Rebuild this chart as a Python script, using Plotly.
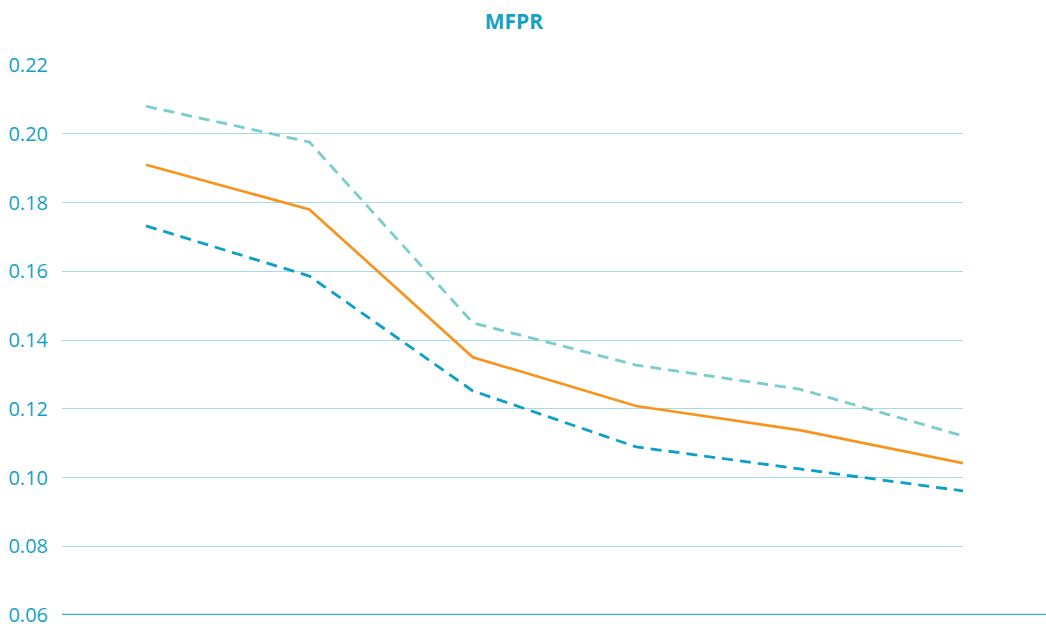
import plotly.graph_objects as go

periods = [0, 1, 2, 3, 4, 5]
central = [0.191, 0.178, 0.135, 0.1208, 0.1138, 0.1042]
upper = [0.2080, 0.1976, 0.1450, 0.1327, 0.1257, 0.1121]
lower = [0.1732, 0.1586, 0.1252, 0.1089, 0.1025, 0.0961]
y_ticks = [0.06, 0.08, 0.10, 0.12, 0.14, 0.16, 0.18, 0.20, 0.22]

TEAL = "#14a1c6"
fig = go.Figure()
fig.add_trace(go.Scatter(x=periods, y=upper, mode="lines", name="Upper",
                         line=dict(color="#79cdcd", width=2.8, dash="11px,7px")))
fig.add_trace(go.Scatter(x=periods, y=lower, mode="lines", name="Lower",
                         line=dict(color="#0aa0c8", width=2.8, dash="11px,7px")))
fig.add_trace(go.Scatter(x=periods, y=central, mode="lines", name="MFPR",
                         line=dict(color="#f7941d", width=2.7)))

fig.update_layout(
    width=1046, height=634,
    margin=dict(l=62, r=83, t=65, b=19),
    paper_bgcolor="white", plot_bgcolor="white",
    showlegend=False,
    font=dict(family="Open Sans, sans-serif", color=TEAL, size=20),
    title=dict(text="<b>MFPR</b>", xref="container", x=514 / 1046, xanchor="center",
               y=1 - 22 / 634, yanchor="middle",
               font=dict(size=21, color=TEAL)),
    xaxis=dict(range=[-0.514, 5], showticklabels=False, showgrid=False,
               zeroline=False, showline=False, ticks="", automargin=False),
    yaxis=dict(range=[0.06, 0.22], tickvals=y_ticks, tickformat=".2f",
               showgrid=True, gridcolor="#a3dbe6", gridwidth=1,
               zeroline=False, showline=False, ticks="", automargin=False,
               ticklabelstandoff=13, tickfont=dict(size=20, color=TEAL)),
)
fig.add_shape(type="line", xref="paper", yref="y", x0=0, x1=(1046 - 62) / 901,
              y0=0.06, y1=0.06, line=dict(color="#3bb5cc", width=2.5))

fig.write_html("out.html", config={"displayModeBar": False},
               post_script="document.body.style.margin='0';")
